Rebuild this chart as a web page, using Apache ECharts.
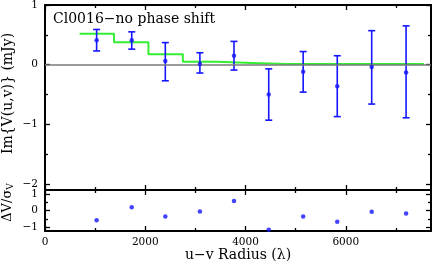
<!DOCTYPE html>
<html><head><meta charset="utf-8">
<script src="https://cdn.jsdelivr.net/npm/echarts@6/dist/echarts.min.js"></script>
<style>html,body{margin:0;padding:0;background:#fff}#c{width:438px;height:263px}</style>
</head><body><div id="c"></div>
<script>
const titleText = 'Cl0016\u2212no phase shift';
const radius = [1030, 1730, 2400, 3090, 3770, 4463, 5150, 5830, 6517, 7203];
const imV    = [0.41, 0.41, 0.06, 0.01, 0.15, -0.50, -0.12, -0.36, -0.04, -0.13];
const errLo  = [0.23, 0.26, -0.27, -0.14, -0.09, -0.93, -0.46, -0.87, -0.66, -0.89];
const errHi  = [0.59, 0.55, 0.37, 0.20, 0.39, -0.07, 0.22, 0.15, 0.57, 0.65];
const modelEdges = [690, 1377, 2063, 2750, 3437, 4123, 4810, 5497, 6183, 6870, 7557];
const modelVals  = [0.52, 0.375, 0.175, 0.05, 0.03, 0.01, 0.01, 0.01, 0.01, 0.01];
const resid  = [-0.58, 0.21, -0.35, -0.05, 0.58, -1.14, -0.35, -0.67, -0.07, -0.17];
const xMajor = [0, 2000, 4000, 6000];
const xMinor = [1000, 3000, 5000, 7000];
const yTopMajor = [-2, -1, 0, 1];
const yTopMinor = [-1.5, -0.5, 0.5];
const yBotMajor = [-1, 0, 1];
const yBotMinor = [-0.5, 0.5];

const FONT = 'DejaVu Serif';
const fmt = v => String(v).replace('-', '\u2212');
const X_MIN = 0, X_MAX = 7700;

function xAxesFor(gi, labels, name) {
  const base = {gridIndex: gi, type: 'value', min: X_MIN, max: X_MAX, splitLine: {show: false}, offset: 0};
  return [
    Object.assign({}, base, {position: 'bottom',
      axisLine: {show: true, onZero: false, lineStyle: {color: '#000', width: 2}},
      axisTick: {show: true, inside: true, length: 5, customValues: xMajor, lineStyle: {color: '#000', width: 1.3}},
      axisLabel: {show: labels, customValues: xMajor, fontFamily: FONT, fontSize: 10.5, color: '#000', margin: 6, formatter: fmt},
      name: name || '', nameLocation: 'middle', nameGap: 17, nameMoveOverlap: false,
      nameTextStyle: {fontFamily: FONT, fontSize: 14, color: '#000'}}),
    Object.assign({}, base, {position: 'bottom', axisLine: {show: false, onZero: false},
      axisTick: {show: true, inside: true, length: 3, customValues: xMinor, lineStyle: {color: '#000', width: 1.3}},
      axisLabel: {show: false}}),
    Object.assign({}, base, {position: 'top',
      axisLine: {show: true, onZero: false, lineStyle: {color: '#000', width: 2}},
      axisTick: {show: true, inside: true, length: 5, customValues: xMajor, lineStyle: {color: '#000', width: 1.3}},
      axisLabel: {show: false}}),
    Object.assign({}, base, {position: 'top', axisLine: {show: false, onZero: false},
      axisTick: {show: true, inside: true, length: 3, customValues: xMinor, lineStyle: {color: '#000', width: 1.3}},
      axisLabel: {show: false}})
  ];
}
function yAxesFor(gi, min, max, major, minor, name, namePad) {
  const base = {gridIndex: gi, type: 'value', min: min, max: max, splitLine: {show: false}, offset: 0};
  return [
    Object.assign({}, base, {position: 'left',
      axisLine: {show: true, onZero: false, lineStyle: {color: '#000', width: 2}},
      axisTick: {show: true, inside: true, length: 5, customValues: major, lineStyle: {color: '#000', width: 1.3}},
      axisLabel: {show: true, customValues: major, fontFamily: FONT, fontSize: 10.5, color: '#000', margin: 7, formatter: fmt},
      name: name, nameLocation: 'middle', nameGap: 30, nameMoveOverlap: false,
      nameTextStyle: {fontFamily: FONT, fontSize: 14, color: '#000', padding: namePad,
        rich: {a: {fontFamily: FONT, fontSize: 13, color: '#000'}, s: {fontFamily: FONT, fontSize: 9, color: '#000', padding: [6, 0, 0, 0]}}}}),
    Object.assign({}, base, {position: 'left', axisLine: {show: false, onZero: false},
      axisTick: {show: true, inside: true, length: 3, customValues: minor, lineStyle: {color: '#000', width: 1.3}},
      axisLabel: {show: false}}),
    Object.assign({}, base, {position: 'right',
      axisLine: {show: true, onZero: false, lineStyle: {color: '#000', width: 2}},
      axisTick: {show: true, inside: true, length: 5, customValues: major, lineStyle: {color: '#000', width: 1.3}},
      axisLabel: {show: false}}),
    Object.assign({}, base, {position: 'right', axisLine: {show: false, onZero: false},
      axisTick: {show: true, inside: true, length: 3, customValues: minor, lineStyle: {color: '#000', width: 1.3}},
      axisLabel: {show: false}})
  ];
}

const stepData = modelEdges.map((e, i) => [e, modelVals[Math.min(i, modelVals.length - 1)]]);
const errData = radius.map((r, i) => [r, errLo[i], errHi[i]]);
const BLUE = '#1515ff';

const option = {
  animation: false,
  backgroundColor: '#fff',
  title: {text: titleText, left: 48, top: 7,
    textStyle: {fontFamily: FONT, fontSize: 14, fontWeight: 'normal', color: '#000'}},
  grid: [
    {left: 45, top: 5, width: 386, height: 185, containLabel: false, outerBoundsMode: 'none'},
    {left: 45, top: 190, width: 386, height: 41, containLabel: false, outerBoundsMode: 'none'}
  ],
  xAxis: [].concat(xAxesFor(0, false), xAxesFor(1, true, 'u\u2212v Radius (\u03bb)')),
  yAxis: [].concat(
    yAxesFor(0, -2.1, 1, yTopMajor, yTopMinor, 'Im{V(u,v)} (mJy)', [0, 0, 0, 8]),
    yAxesFor(1, -1.22, 1.24, yBotMajor, yBotMinor, '{a|\u0394V/\u03c3}{s|V}', [0, 0, 0, 16])),
  series: [
    {type: 'line', xAxisIndex: 0, yAxisIndex: 0, data: [], silent: true,
      markLine: {silent: true, symbol: ['none', 'none'], label: {show: false},
        lineStyle: {color: '#7a7a7a', width: 1.5, type: 'solid'}, data: [{yAxis: 0}]}},
    {type: 'line', xAxisIndex: 0, yAxisIndex: 0, step: 'end', data: stepData, showSymbol: false,
      lineStyle: {color: '#33ee33', width: 2}, z: 3},
    {type: 'custom', xAxisIndex: 0, yAxisIndex: 0, data: errData, z: 4,
      renderItem: function (params, api) {
        const x = api.value(0);
        const lo = api.coord([x, api.value(1)]);
        const hi = api.coord([x, api.value(2)]);
        const w = 3.5;
        const st = {stroke: BLUE, lineWidth: 1.6};
        return {type: 'group', children: [
          {type: 'line', shape: {x1: lo[0], y1: lo[1], x2: hi[0], y2: hi[1]}, style: st},
          {type: 'line', shape: {x1: lo[0] - w, y1: lo[1], x2: lo[0] + w, y2: lo[1]}, style: st},
          {type: 'line', shape: {x1: hi[0] - w, y1: hi[1], x2: hi[0] + w, y2: hi[1]}, style: st}
        ]};
      }},
    {type: 'scatter', xAxisIndex: 0, yAxisIndex: 0, data: radius.map((r, i) => [r, imV[i]]),
      symbol: 'circle', symbolSize: 4.5, itemStyle: {color: BLUE}, z: 5},
    {type: 'scatter', xAxisIndex: 4, yAxisIndex: 4, data: radius.map((r, i) => [r, resid[i]]),
      symbol: 'circle', symbolSize: 4.5, itemStyle: {color: BLUE}, z: 5}
  ]
};
const chart = echarts.init(document.getElementById('c'), null, {renderer: 'canvas'});
chart.setOption(option);
</script></body></html>
